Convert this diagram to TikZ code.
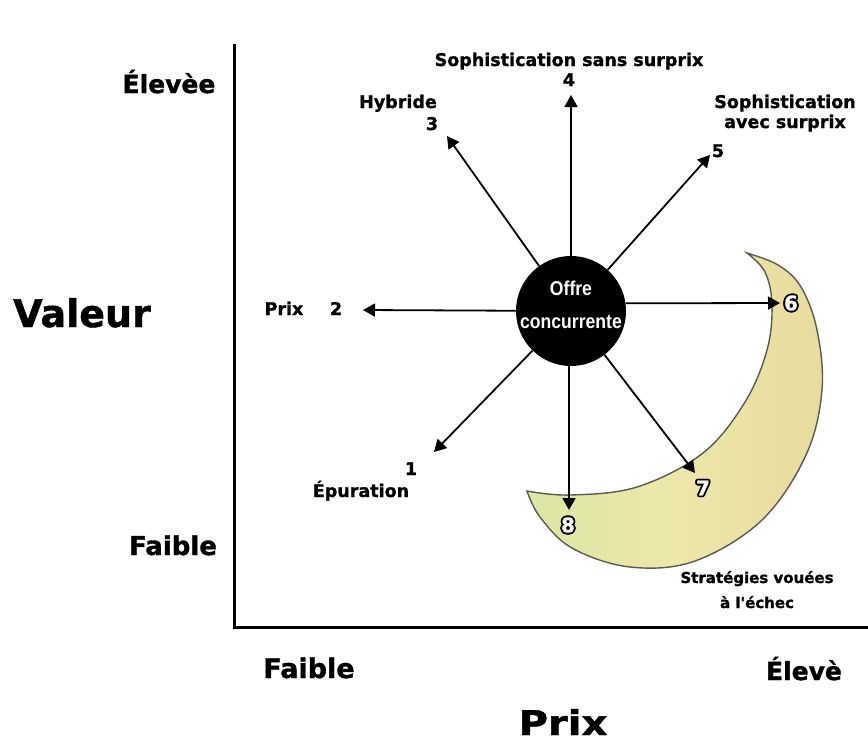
\documentclass[tikz,border=0pt]{standalone}
\usepackage{fontspec}
\setmainfont{DejaVu Sans}[Ligatures=TeXOff, BoldFeatures={FakeBold=1.2}]
\newfontfamily\condfont{Liberation Sans}[FakeStretch=0.88]
\usetikzlibrary{arrows.meta,calc}
\definecolor{moonfill}{HTML}{EDE7AA}
\definecolor{moongreen}{HTML}{DCE6A4}
\definecolor{moontan}{HTML}{E8DB9F}
\definecolor{moonedge}{HTML}{5A5A50}

% white digit with a black rim, placed at a coordinate
\newcommand\rimdigit[3]{%
  \foreach \a in {0,30,...,330} {\node[digit,text=black] (#2-\a) at ($(#1)+(\a:1.8)$) {#3};}
  \node[digit,text=white] (#2) at (#1) {#3};
}

\begin{document}
\begin{tikzpicture}[x=1pt,y=-1pt,
  lbl/.style={font=\bfseries\fontsize{17.5}{20}\selectfont, inner sep=0pt, anchor=base},
  small/.style={font=\bfseries\fontsize{15}{18}\selectfont, inner sep=0pt, anchor=base},
  axlbl/.style={font=\bfseries\fontsize{25}{28}\selectfont, inner sep=0pt, anchor=base},
  big/.style={font=\bfseries\fontsize{38}{42}\selectfont, inner sep=0pt, anchor=base},
  digit/.style={font=\bfseries\fontsize{20}{22}\selectfont, inner sep=0pt},
  core/.style={circle, fill=black, minimum size=110pt, inner sep=0pt},
  coretxt/.style={font=\condfont\bfseries\fontsize{20}{22}\selectfont, text=white, inner sep=0pt},
  arr/.style={line width=1.8pt, -{Triangle[length=12pt,width=13pt]}},
  axis/.style={line width=3pt}]
\useasboundingbox (0,0) rectangle (868,740);
\fill[white] (0,0) rectangle (868,740);

% axes
\coordinate (ytop) at (234,44);
\coordinate (origin) at (234,627);
\coordinate (xend) at (868,627);
\draw[axis] (ytop) -- (origin) -- (xend);

% axis labels
\node[axlbl] (vhigh) at (169,93) {Élevèe};
\node[big] (vtitle) at (82,327) {Valeur};
\node[axlbl, font=\bfseries\fontsize{26}{28}\selectfont] (vlow) at (173,555) {Faible};
\node[axlbl, font=\bfseries\fontsize{27}{30}\selectfont] (plow) at (309,678) {Faible};
\node[axlbl] (phigh) at (804,680) {Élevè};
\node[big, font=\bfseries\fontsize{34}{38}\selectfont] (ptitle) at (563,735) {\scalebox{1.18}[1]{Prix}};

% crescent of the failing strategies
\path[draw=moonedge, line width=1.4pt, left color=moongreen, right color=moontan, middle color=moonfill]
  plot[smooth, tension=0.6] coordinates {(747,253) (778,265) (801,287) (817,330) (822,390) (806,455) (762,520) (695,561) (630,567) (572,548) (540,517) (527,491)}
  -- plot[smooth, tension=0.6] coordinates {(527,491) (570,495) (637,487) (703,453) (745,402) (767,350) (772,305) (765,272) (747,253)}
  -- cycle;

% central offer
\node[core] (oc) at (571,311) {};
\node[coretxt] (oc1) at (571,288) {Offre};
\node[coretxt] (oc2) at (571,322) {concurrente};

% arrow ends
\coordinate (t1) at (434,452);
\coordinate (t2) at (363,310);
\coordinate (t3) at (447,136);
\coordinate (t4) at (571,95);
\coordinate (t5) at (710,155);
\coordinate (t6) at (780,303);
\coordinate (t7) at (695,473);
\coordinate (t8) at (569,510);

\draw[arr] (oc) -- (t1);
\draw[arr] (oc) -- (t2);
\draw[arr] (oc) -- (t3);
\draw[arr] (oc) -- (t4);
\draw[arr] (oc) -- (t5);
\draw[arr] (oc.8) -- (t6);
\draw[arr] (oc) -- (t7);
\draw[arr] (oc.-92) -- (t8);

% strategy labels
\node[lbl] (n1) at (411,475) {1};
\node[lbl] (l1) at (361,497) {Épuration};
\node[lbl] (l2) at (284,315) {Prix};
\node[lbl] (n2) at (336,315) {2};
\node[lbl] (l3) at (398,108) {Hybride};
\node[lbl] (n3) at (432,130) {3};
\node[lbl] (l4) at (569,66) {Sophistication sans surprix};
\node[lbl] (n4) at (569,86) {4};
\node[lbl] (l5a) at (785,108) {Sophistication};
\node[lbl] (l5b) at (785,128) {avec surprix};
\node[lbl] (n5) at (718,157) {5};

\rimdigit{791,303}{n6}{6}
\rimdigit{703,488}{n7}{7}
\rimdigit{568,525}{n8}{8}

\node[small] (f1) at (757,583) {Stratégies vouées};
\node[small] (f2) at (757,608) {à l'échec};
\end{tikzpicture}
\end{document}
